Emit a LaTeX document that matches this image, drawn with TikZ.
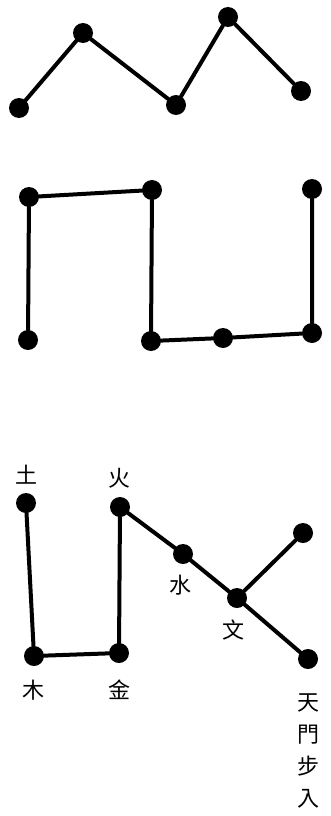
\documentclass[tikz,border=0pt]{standalone}
\usepackage{fontspec}
\newfontfamily\cjk{Noto Sans CJK TC}
\usetikzlibrary{positioning}
\tikzset{
  stardot/.style={circle, fill=black, draw=none, inner sep=0pt, minimum size=20pt},
  starlink/.style={draw=black, line width=4pt, line cap=round, line join=round},
  starlbl/.style={font=\cjk\fontsize{22}{32}\selectfont, inner sep=0pt, align=center},
}
\begin{document}
\begin{tikzpicture}[x=1pt, y=-1pt]
\useasboundingbox (0,0) rectangle (331,816);
% first figure
\node[stardot] (a1) at (19,108) {};
\node[stardot] (a2) at (83,33) {};
\node[stardot] (a3) at (176,105) {};
\node[stardot] (a4) at (228,17) {};
\node[stardot] (a5) at (301,91) {};
\draw[starlink] (a1) -- (a2) -- (a3) -- (a4) -- (a5);
% second figure
\node[stardot] (b1) at (29,197) {};
\node[stardot] (b2) at (152,190) {};
\node[stardot] (b3) at (28,340) {};
\node[stardot] (b4) at (151,341) {};
\node[stardot] (b5) at (223,338) {};
\node[stardot] (b6) at (312,333) {};
\node[stardot] (b7) at (312,189) {};
\draw[starlink] (b3) -- (b1) -- (b2) -- (b4) -- (b5) -- (b6) -- (b7);
% third figure
\node[stardot] (tu) at (26,503) {};
\node[stardot] (mu) at (34,656) {};
\node[stardot] (jin) at (119,653) {};
\node[stardot] (huo) at (120,507) {};
\node[stardot] (shui) at (183,554) {};
\node[stardot] (wen) at (237,598) {};
\node[stardot] (ne) at (303,533) {};
\node[stardot] (tian) at (308,659) {};
\draw[starlink] (tu) -- (mu) -- (jin) -- (huo) -- (shui) -- (wen) -- (tian);
\draw[starlink] (wen) -- (ne);
\node[starlbl] (ltu) at (27,475) {土};
\node[starlbl] (lhuo) at (119,478) {火};
\node[starlbl] (lshui) at (180,585) {水};
\node[starlbl] (lwen) at (233,630) {文};
\node[starlbl] (lmu) at (34,690) {木};
\node[starlbl] (ljin) at (119,690) {金};
\node[starlbl, below=24pt of tian] (ltian) {天\\門\\步\\入};
\end{tikzpicture}
\end{document}
